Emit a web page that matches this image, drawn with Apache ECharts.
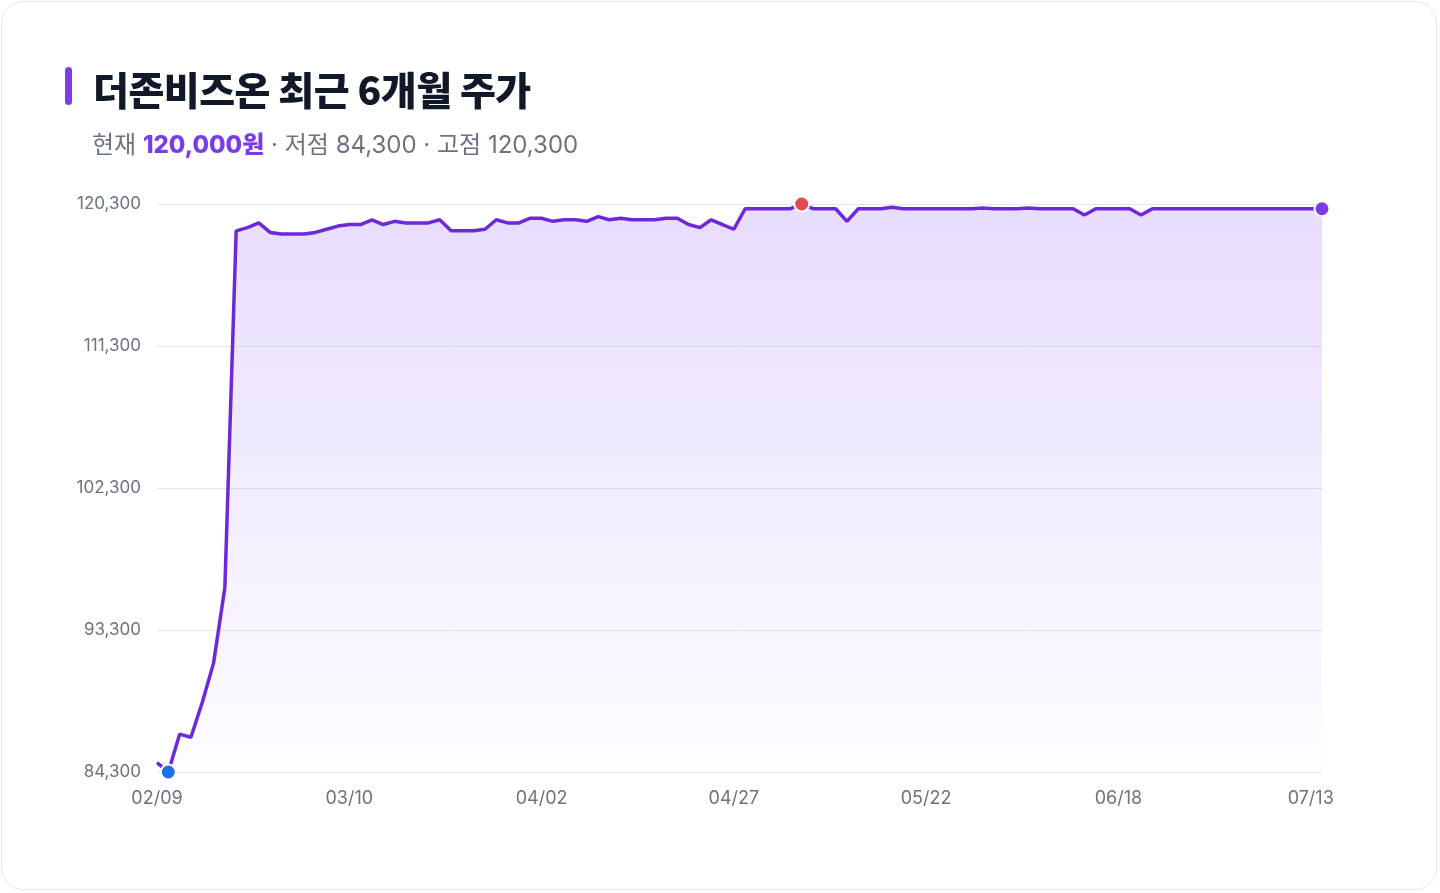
<!DOCTYPE html>
<html><head><meta charset="utf-8">
<script src="https://cdn.jsdelivr.net/npm/echarts@6/dist/echarts.min.js"></script>
<style>
html,body{margin:0;padding:0;background:#fff;font-family:Inter,"Noto Sans CJK KR",sans-serif;}
#card{position:absolute;left:1px;top:1px;width:1436px;height:889px;border:1px solid #e5e7eb;border-radius:22px;background:#fff;box-sizing:border-box;}
#bar{position:absolute;left:65px;top:67px;width:7px;height:38px;border-radius:4px;background:#7c3aed;}
#title{position:absolute;left:93px;top:60px;font-size:39px;font-weight:800;color:#111827;letter-spacing:-0.5px;font-family:"Noto Sans CJK KR",sans-serif;}
#sub{position:absolute;left:92px;top:125px;font-size:24px;color:#6b7280;font-family:Inter,"Noto Sans CJK KR",sans-serif;}
#sub b{color:#7c3aed;font-weight:800;}
#chart{position:absolute;left:0;top:0;width:1440px;height:893px;}
</style></head>
<body>
<div id="card"></div>
<div id="chart"></div>
<div id="bar"></div>
<div id="title">더존비즈온 최근 6개월 주가</div>
<div id="sub">현재 <b>120,000원</b> · 저점 84,300 · 고점 120,300</div>
<script>
const dates = ['02/09','02/10','02/11','02/12','02/13','02/19','02/20','02/23','02/24','02/25','02/26','02/27',
'03/03','03/04','03/05','03/06','03/09','03/10','03/11','03/12','03/13','03/16','03/17','03/18','03/19','03/20',
'03/23','03/24','03/25','03/26','03/27','03/30','03/31','04/01','04/02','04/03','04/06','04/07','04/08','04/09','04/10',
'04/13','04/14','04/15','04/16','04/17','04/20','04/21','04/22','04/23','04/24','04/27','04/28','04/29','04/30',
'05/04','05/06','05/07','05/08','05/11','05/12','05/13','05/14','05/15','05/18','05/19','05/20','05/21','05/22',
'05/26','05/27','05/28','05/29','06/01','06/02','06/04','06/05','06/08','06/09','06/10','06/11','06/12',
'06/15','06/16','06/17','06/18','06/19','06/22','06/23','06/24','06/25','06/26','06/29','06/30',
'07/01','07/02','07/03','07/06','07/07','07/08','07/09','07/10','07/13','07/14'];
const prices = [84900,84300,86700,86500,88700,91200,96000,
118600,118800,119100,118500,118400,118400,118400,118500,118700,118900,119000,119000,119300,119000,119200,119100,119100,119100,119300,
118600,118600,118600,118700,119300,119100,119100,119400,119400,119200,119300,119300,119200,119500,119300,119400,119300,119300,119300,119400,
119400,119000,118800,119300,119000,118700,
120000,120000,120000,120000,120000,120300,120000,120000,120000,119200,120000,120000,120000,120100,120000,120000,120000,120000,120000,120000,120000,
120050,120000,120000,120000,120050,120000,120000,120000,120000,119600,120000,120000,120000,120000,119600,120000,120000,120000,120000,120000,
120000,120000,120000,120000,120000,120000,120000,120000,120000,120000,120000];
const yTicks = [84300,93300,102300,111300,120300];
const lowIdx = prices.indexOf(Math.min(...prices));
const highIdx = prices.indexOf(Math.max(...prices));
const lastIdx = prices.length-1;
const chart = echarts.init(document.getElementById('chart'));
const dot = (i,color)=>({coord:[dates[i],prices[i]],symbol:'circle',symbolSize:15,itemStyle:{color:color,borderColor:'#fff',borderWidth:2}});
chart.setOption({
  animation:false,
  grid:{left:157,right:118,top:204,bottom:121},
  xAxis:{type:'category',data:dates,boundaryGap:false,
    axisLine:{show:false},axisTick:{show:false},
    axisLabel:{interval:16,color:'#6b7280',fontSize:18,margin:18,fontFamily:'Inter'},
    splitLine:{show:false}},
  yAxis:{type:'value',min:yTicks[0],max:yTicks[yTicks.length-1],interval:9000,
    axisLine:{show:false},axisTick:{show:false},
    axisLabel:{color:'#6b7280',fontSize:17,margin:16,fontFamily:'Inter',formatter:v=>v.toLocaleString('en-US')},
    splitLine:{lineStyle:{color:'#e5e7eb',width:1}}},
  series:[{type:'line',data:prices,symbol:'none',
    lineStyle:{color:'#6d28d9',width:3.5},
    itemStyle:{color:'#6d28d9'},
    areaStyle:{color:new echarts.graphic.LinearGradient(0,0,0,1,[{offset:0,color:'rgba(139,92,246,0.30)'},{offset:1,color:'rgba(139,92,246,0.02)'}])},
    markPoint:{label:{show:false},data:[dot(lowIdx,'#1d6fe8'),dot(highIdx,'#e5484d'),dot(lastIdx,'#7c3aed')]}
  }]
});
</script>
</body></html>
